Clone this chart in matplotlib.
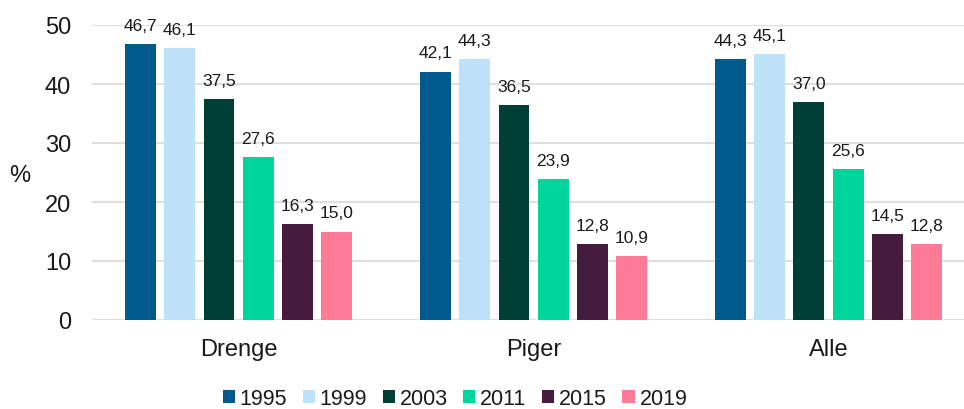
import matplotlib.pyplot as plt
import numpy as np

plt.rcParams['font.family'] = ['Liberation Sans', 'DejaVu Sans']

groups = ["Drenge", "Piger", "Alle"]
years = ["1995", "1999", "2003", "2011", "2015", "2019"]
values = {
    "1995": [46.7, 42.1, 44.3],
    "1999": [46.1, 44.3, 45.1],
    "2003": [37.5, 36.5, 37.0],
    "2011": [27.6, 23.9, 25.6],
    "2015": [16.3, 12.8, 14.5],
    "2019": [15.0, 10.9, 12.8],
}
colors = ["#005a8c", "#bfe2fb", "#003f36", "#00d59b", "#461c3e", "#ff7a97"]

fig = plt.figure(figsize=(9.64, 4.10), dpi=100)
ax = fig.add_axes([92 / 964, 89 / 410, 1 - 92 / 964, 295 / 410])

x = np.arange(len(groups))
step = 0.133
width = 0.105
for i, yr in enumerate(years):
    pos = x + (i - 2.5) * step
    bars = ax.bar(pos, values[yr], width, color=colors[i], label=yr, zorder=3)
    for b, v in zip(bars, values[yr]):
        ax.annotate(f"{v:.1f}".replace(".", ","), (b.get_x() + b.get_width() / 2, v),
                    xytext=(0, 8), textcoords="offset points",
                    ha="center", va="bottom", fontsize=12.5, color="#1a1a1a",
                    annotation_clip=False)

ax.set_xlim(-0.497, 2.459)
ax.set_ylim(0, 50)
ax.set_yticks(range(0, 51, 10))
ax.set_xticks(x)
ax.set_xticklabels(groups)
ax.tick_params(axis="y", length=0, pad=15, labelsize=17, labelcolor="#1a1a1a")
ax.tick_params(axis="x", length=0, pad=13, labelsize=17, labelcolor="#1a1a1a")
ax.grid(axis="y", color="#d9d9d9", linewidth=1.2, zorder=0)
for s in ax.spines.values():
    s.set_visible(False)

fig.text(20 / 964, 1 - 176 / 410, "%", fontsize=17, ha="center", va="center", color="#1a1a1a")

fig.legend(loc="center", bbox_to_anchor=(455 / 964, 1 - 400 / 410), ncol=6, frameon=False,
           fontsize=15.5, handlelength=0.56, handleheight=0.56, handletextpad=0.23,
           columnspacing=0.72, labelcolor="#1a1a1a")

fig.savefig("out.png", dpi=100)
